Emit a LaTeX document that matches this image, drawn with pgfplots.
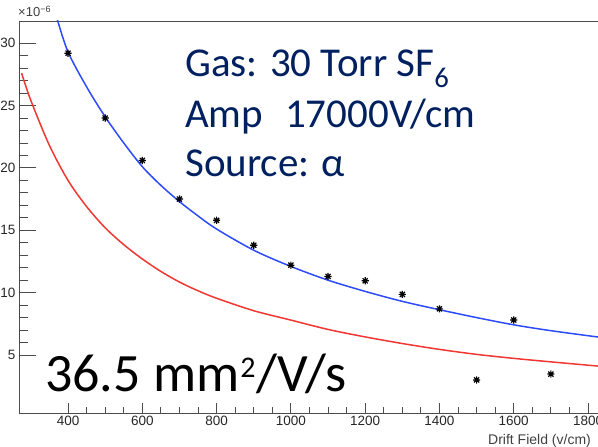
\documentclass[border=0pt]{standalone}
\usepackage{pgfplots}
\pgfplotsset{compat=1.18}
\usepackage{fontspec}
\setmainfont{Liberation Sans}
\newfontfamily\calibri{Carlito}
\definecolor{navy}{RGB}{0,32,96}
\definecolor{lblue}{RGB}{45,75,250}
\definecolor{lred}{RGB}{240,55,50}
\pgfdeclareplotmark{rootast}{%
 \pgfpathmoveto{\pgfpoint{-\pgfplotmarksize}{0pt}}\pgfpathlineto{\pgfpoint{\pgfplotmarksize}{0pt}}%
 \pgfpathmoveto{\pgfpoint{0pt}{-\pgfplotmarksize}}\pgfpathlineto{\pgfpoint{0pt}{\pgfplotmarksize}}%
 \pgfpathmoveto{\pgfpoint{-.707\pgfplotmarksize}{-.707\pgfplotmarksize}}\pgfpathlineto{\pgfpoint{.707\pgfplotmarksize}{.707\pgfplotmarksize}}%
 \pgfpathmoveto{\pgfpoint{-.707\pgfplotmarksize}{.707\pgfplotmarksize}}\pgfpathlineto{\pgfpoint{.707\pgfplotmarksize}{-.707\pgfplotmarksize}}%
 \pgfusepathqstroke}
\pgfplotsset{
  rootframe/.style={
    at={(19pt,34pt)}, anchor=south west, scale only axis,
    width=587.6pt, height=392pt,
    xmin=268, xmax=1850, ymin=0.35, ymax=31.78,
    tick align=inside, tick pos=left,
    axis line style={black!70, line width=0.9pt},
    every tick/.style={black!70, line width=0.9pt},
    ticklabel style={font=\fontsize{13.5}{16}\selectfont, text=black!85},
    /pgf/number format/assume math mode=true,
    /pgf/number format/1000 sep={},
  }
}
\begin{document}
\begin{tikzpicture}
% y ticks (long)
\begin{axis}[rootframe,
  xtick=\empty, ytick={5,10,...,30}, minor y tick num=4,
  major tick length=16.7pt, minor tick length=9pt]
\addplot[draw=none, forget plot] coordinates {(400,5)};
\end{axis}
% x ticks and data
\begin{axis}[rootframe,
  ytick=\empty, xtick={400,600,...,1800}, minor x tick num=3,
  major tick length=10pt, minor tick length=6pt, clip=true]
\addplot[lblue, line width=1.5pt, smooth] coordinates {
 (360,33.0) (370,32.0) (400,29.3) (450,26.5) (500,24.1) (550,22.0) (600,20.1) (650,18.6) (700,17.3)
 (750,16.15) (800,15.1) (900,13.4) (1000,12.1) (1100,11.0) (1200,10.1) (1300,9.3)
 (1400,8.63) (1500,8.0) (1600,7.42) (1700,6.95) (1850,6.35)
};
\addplot[lred, line width=1.5pt, smooth] coordinates {
 (275,27.6) (300,25.4) (350,21.8) (400,19.0) (450,16.9) (500,15.2) (550,13.85) (600,12.7) (650,11.7) (700,10.85)
 (750,10.15) (800,9.55) (900,8.55) (1000,7.8) (1100,7.05) (1200,6.45) (1300,5.92)
 (1400,5.45) (1500,5.05) (1600,4.73) (1700,4.45) (1850,4.05)
};
\addplot[only marks, mark=rootast, mark size=3.6pt, black, mark options={line width=1.2pt}] coordinates {
 (400,29.2) (500,24.0) (600,20.6) (700,17.5) (800,15.8) (900,13.8) (1000,12.2)
 (1100,11.3) (1200,10.95) (1300,9.86) (1400,8.7) (1500,3.0) (1600,7.8) (1700,3.47)
};
\end{axis}
\node[anchor=base west, inner sep=0, text=navy, font=\calibri\fontsize{41}{50}\selectfont] at (185pt,370pt) {Gas: 30 Torr SF\textsubscript{6}};
\node[anchor=base west, inner sep=0, text=navy, font=\calibri\fontsize{41}{50}\selectfont] at (185pt,319pt) {Amp\hspace*{22pt}17000V/cm};
\node[anchor=base west, inner sep=0, text=navy, font=\calibri\fontsize{41}{50}\selectfont] at (185pt,270pt) {Source: α};
\node[anchor=base west, inner sep=0, text=black, font=\calibri\fontsize{54}{62}\selectfont] at (45pt,55.3pt) {36.5 mm\hspace{1pt}\raisebox{14pt}{\fontsize{30}{30}\selectfont 2}\hspace{1pt}/V/s};
\node[anchor=base west, inner sep=0, text=black!75, font=\fontsize{13}{15}\selectfont] at (18pt,430pt) {×10\textsuperscript{−6}};
\node[anchor=base west, inner sep=0, text=black!75, font=\fontsize{14}{16}\selectfont] at (488pt,2pt) {Drift Field (v/cm)};
\pgfresetboundingbox
\path[use as bounding box] (0,0) rectangle (598pt,447pt);
\end{tikzpicture}
\end{document}
